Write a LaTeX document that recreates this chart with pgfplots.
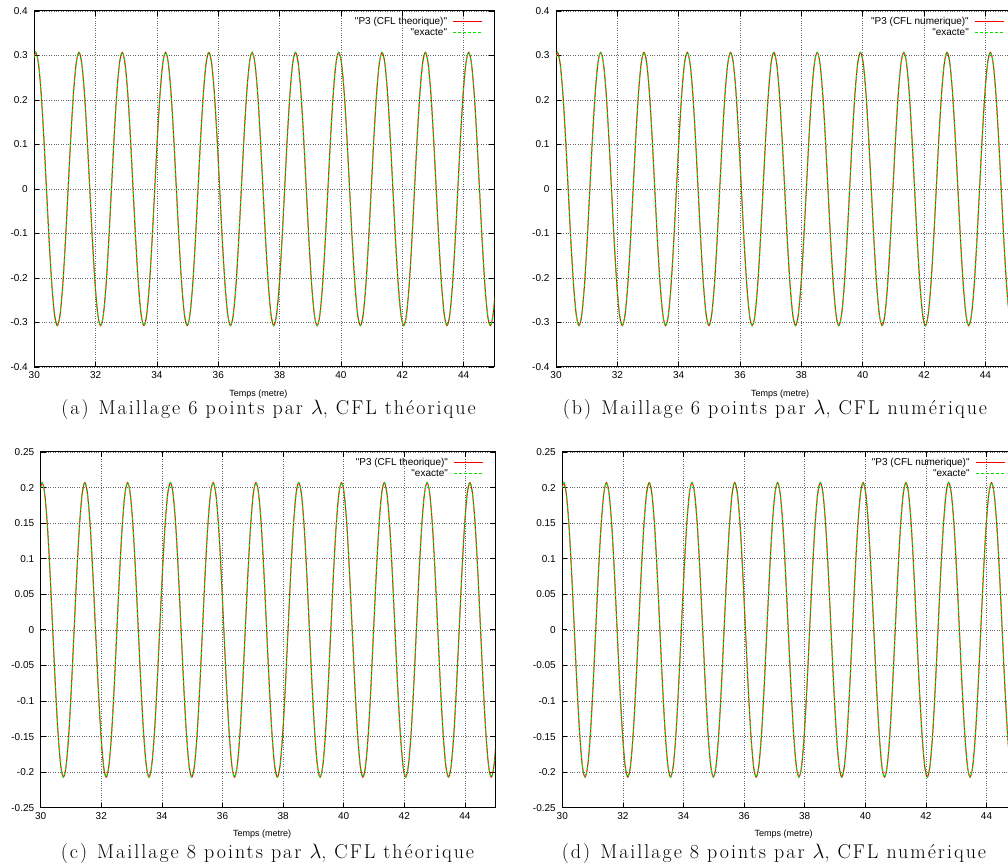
\documentclass[border=0pt]{standalone}
\usepackage{fontspec}
\usepackage{pgfplots}
\usepackage{pgfplotstable}
\pgfplotsset{compat=1.18}
\newfontfamily\hel{Liberation Sans}[Ligatures=TeXOff]
\newfontfamily\capfont{Latin Modern Roman}[LetterSpace=10]
\definecolor{gpred}{rgb}{1,0,0}
\definecolor{gpgreen}{rgb}{0,0.9,0}

\pgfplotstableread[row sep=\\]{
x a c\\
29.956 0.2836 0.1912\\
30.044 0.307 0.207\\ 30.132 0.2836 0.1912\\ 30.221 0.2171 0.1464\\ 30.309 0.1175 0.0792\\ 30.397 0 0\\ 30.485 -0.1175 -0.0792\\ 30.574 -0.2171 -0.1464\\ 30.662 -0.2836 -0.1912\\ 30.750 -0.307 -0.207\\ 30.838 -0.2836 -0.1912\\ 30.927 -0.2171 -0.1464\\ 31.015 -0.1175 -0.0792\\ 31.103 0 0\\ 31.191 0.1175 0.0792\\ 31.280 0.2171 0.1464\\ 31.368 0.2836 0.1912\\
31.456 0.307 0.207\\ 31.544 0.2836 0.1912\\ 31.633 0.2171 0.1464\\ 31.721 0.1175 0.0792\\ 31.809 0 0\\ 31.897 -0.1175 -0.0792\\ 31.986 -0.2171 -0.1464\\ 32.074 -0.2836 -0.1912\\ 32.162 -0.307 -0.207\\ 32.250 -0.2836 -0.1912\\ 32.339 -0.2171 -0.1464\\ 32.427 -0.1175 -0.0792\\ 32.515 0 0\\ 32.603 0.1175 0.0792\\ 32.692 0.2171 0.1464\\ 32.780 0.2836 0.1912\\
32.868 0.307 0.207\\ 32.956 0.2836 0.1912\\ 33.045 0.2171 0.1464\\ 33.133 0.1175 0.0792\\ 33.221 0 0\\ 33.309 -0.1175 -0.0792\\ 33.398 -0.2171 -0.1464\\ 33.486 -0.2836 -0.1912\\ 33.574 -0.307 -0.207\\ 33.662 -0.2836 -0.1912\\ 33.751 -0.2171 -0.1464\\ 33.839 -0.1175 -0.0792\\ 33.927 0 0\\ 34.015 0.1175 0.0792\\ 34.104 0.2171 0.1464\\ 34.192 0.2836 0.1912\\
34.280 0.307 0.207\\ 34.368 0.2836 0.1912\\ 34.457 0.2171 0.1464\\ 34.545 0.1175 0.0792\\ 34.633 0 0\\ 34.721 -0.1175 -0.0792\\ 34.810 -0.2171 -0.1464\\ 34.898 -0.2836 -0.1912\\ 34.986 -0.307 -0.207\\ 35.074 -0.2836 -0.1912\\ 35.163 -0.2171 -0.1464\\ 35.251 -0.1175 -0.0792\\ 35.339 0 0\\ 35.427 0.1175 0.0792\\ 35.516 0.2171 0.1464\\ 35.604 0.2836 0.1912\\
35.692 0.307 0.207\\ 35.780 0.2836 0.1912\\ 35.869 0.2171 0.1464\\ 35.957 0.1175 0.0792\\ 36.045 0 0\\ 36.133 -0.1175 -0.0792\\ 36.222 -0.2171 -0.1464\\ 36.310 -0.2836 -0.1912\\ 36.398 -0.307 -0.207\\ 36.486 -0.2836 -0.1912\\ 36.575 -0.2171 -0.1464\\ 36.663 -0.1175 -0.0792\\ 36.751 0 0\\ 36.839 0.1175 0.0792\\ 36.928 0.2171 0.1464\\ 37.016 0.2836 0.1912\\
37.104 0.307 0.207\\ 37.192 0.2836 0.1912\\ 37.281 0.2171 0.1464\\ 37.369 0.1175 0.0792\\ 37.457 0 0\\ 37.545 -0.1175 -0.0792\\ 37.634 -0.2171 -0.1464\\ 37.722 -0.2836 -0.1912\\ 37.810 -0.307 -0.207\\ 37.898 -0.2836 -0.1912\\ 37.987 -0.2171 -0.1464\\ 38.075 -0.1175 -0.0792\\ 38.163 0 0\\ 38.251 0.1175 0.0792\\ 38.340 0.2171 0.1464\\ 38.428 0.2836 0.1912\\
38.516 0.307 0.207\\ 38.604 0.2836 0.1912\\ 38.693 0.2171 0.1464\\ 38.781 0.1175 0.0792\\ 38.869 0 0\\ 38.957 -0.1175 -0.0792\\ 39.046 -0.2171 -0.1464\\ 39.134 -0.2836 -0.1912\\ 39.222 -0.307 -0.207\\ 39.310 -0.2836 -0.1912\\ 39.399 -0.2171 -0.1464\\ 39.487 -0.1175 -0.0792\\ 39.575 0 0\\ 39.663 0.1175 0.0792\\ 39.752 0.2171 0.1464\\ 39.840 0.2836 0.1912\\
39.928 0.307 0.207\\ 40.016 0.2836 0.1912\\ 40.105 0.2171 0.1464\\ 40.193 0.1175 0.0792\\ 40.281 0 0\\ 40.369 -0.1175 -0.0792\\ 40.458 -0.2171 -0.1464\\ 40.546 -0.2836 -0.1912\\ 40.634 -0.307 -0.207\\ 40.722 -0.2836 -0.1912\\ 40.811 -0.2171 -0.1464\\ 40.899 -0.1175 -0.0792\\ 40.987 0 0\\ 41.075 0.1175 0.0792\\ 41.164 0.2171 0.1464\\ 41.252 0.2836 0.1912\\
41.340 0.307 0.207\\ 41.428 0.2836 0.1912\\ 41.517 0.2171 0.1464\\ 41.605 0.1175 0.0792\\ 41.693 0 0\\ 41.781 -0.1175 -0.0792\\ 41.870 -0.2171 -0.1464\\ 41.958 -0.2836 -0.1912\\ 42.046 -0.307 -0.207\\ 42.134 -0.2836 -0.1912\\ 42.223 -0.2171 -0.1464\\ 42.311 -0.1175 -0.0792\\ 42.399 0 0\\ 42.487 0.1175 0.0792\\ 42.576 0.2171 0.1464\\ 42.664 0.2836 0.1912\\
42.752 0.307 0.207\\ 42.840 0.2836 0.1912\\ 42.929 0.2171 0.1464\\ 43.017 0.1175 0.0792\\ 43.105 0 0\\ 43.193 -0.1175 -0.0792\\ 43.282 -0.2171 -0.1464\\ 43.370 -0.2836 -0.1912\\ 43.458 -0.307 -0.207\\ 43.546 -0.2836 -0.1912\\ 43.635 -0.2171 -0.1464\\ 43.723 -0.1175 -0.0792\\ 43.811 0 0\\ 43.899 0.1175 0.0792\\ 43.988 0.2171 0.1464\\ 44.076 0.2836 0.1912\\
44.164 0.307 0.207\\ 44.252 0.2836 0.1912\\ 44.341 0.2171 0.1464\\ 44.429 0.1175 0.0792\\ 44.517 0 0\\ 44.605 -0.1175 -0.0792\\ 44.694 -0.2171 -0.1464\\ 44.782 -0.2836 -0.1912\\ 44.870 -0.307 -0.207\\ 44.958 -0.2836 -0.1912\\ 45.047 -0.2171 -0.1464\\ 45.135 -0.1175 -0.0792\\ 45.223 0 0\\ 45.311 0.1175 0.0792\\ 45.400 0.2171 0.1464\\ 45.488 0.2836 0.1912\\
}\sinedata

\pgfplotsset{
  gp/.style={
    scale only axis,
    xmin=30, xmax=45,
    xtick={30,32,34,36,38,40,42,44},
    scaled ticks=false,
    /pgf/number format/fixed,
    /pgf/number format/precision=2,
    /pgf/number format/assume math mode=true,
    tick align=inside,
    major tick length=5pt,
    tick style={black, line width=0.8pt},
    axis line style={black, line width=1pt},
    grid=major,
    major grid style={black!60, line width=0.6pt, dash pattern=on 0.8pt off 1.6pt},
    every tick label/.append style={font=\hel\fontsize{10}{12}\selectfont},
    yticklabel style={xshift=-3pt},
    xticklabel style={yshift=-1pt},
    xlabel={Temps (metre)},
    xlabel style={font=\hel\fontsize{9}{10.8}\selectfont, at={(axis description cs:0.487,-0.075)}, anchor=center},
  },
  gplegend/.style={after end axis/.append code={
    \path (rel axis cs:1,1) ++(-47pt,-10.7pt) node[anchor=east, inner sep=0pt, font=\hel\fontsize{10}{12}\selectfont] {#1};
    \path (rel axis cs:1,1) ++(-47pt,-21.3pt) node[anchor=east, inner sep=0pt, font=\hel\fontsize{10}{12}\selectfont] {"exacte"};
    \draw[draw=gpred, line width=1.4pt] (rel axis cs:1,1) ++(-41pt,-10.7pt) -- ++(29pt,0pt);
    \draw[draw=gpgreen, line width=1.4pt, dash pattern=on 3pt off 2pt] (rel axis cs:1,1) ++(-41pt,-21.3pt) -- ++(29pt,0pt);
  }},
  redl/.style={draw=gpred, line width=1pt, smooth},
  grnl/.style={draw=gpgreen, line width=1pt, smooth, dash pattern=on 3pt off 2pt},
}

\begin{document}
\begin{tikzpicture}[x=1pt,y=1pt]
\path[use as bounding box] (0,0) rectangle (1008,867);

% (a)
\begin{axis}[gp, gplegend={"P3 (CFL theorique)"}, at={(34.3pt,500pt)}, anchor=south west, width=460pt, height=356pt,
  ymin=-0.4, ymax=0.4, ytick={-0.4,-0.3,-0.2,-0.1,0,0.1,0.2,0.3,0.4}]
\addplot[redl] table[x=x,y=a] {\sinedata};
\addplot[grnl] table[x=x,y=a] {\sinedata};
\end{axis}

% (b)
\begin{axis}[gp, gplegend={"P3 (CFL numerique)"}, at={(556pt,500pt)}, anchor=south west, width=460pt, height=356pt,
  ymin=-0.4, ymax=0.4, ytick={-0.4,-0.3,-0.2,-0.1,0,0.1,0.2,0.3,0.4}]
\addplot[redl] table[x=x,y=a] {\sinedata};
\addplot[grnl] table[x=x,y=a] {\sinedata};
\end{axis}

% (c)
\begin{axis}[gp, gplegend={"P3 (CFL theorique)"}, at={(40.7pt,59.3pt)}, anchor=south west, width=454.5pt, height=355.7pt,
  ymin=-0.25, ymax=0.25, ytick={-0.25,-0.2,-0.15,-0.1,-0.05,0,0.05,0.1,0.15,0.2,0.25}]
\addplot[redl] table[x=x,y=c] {\sinedata};
\addplot[grnl] table[x=x,y=c] {\sinedata};
\end{axis}

% (d)
\begin{axis}[gp, gplegend={"P3 (CFL numerique)"}, at={(562.3pt,59.3pt)}, anchor=south west, width=454.5pt, height=355.7pt,
  ymin=-0.25, ymax=0.25, ytick={-0.25,-0.2,-0.15,-0.1,-0.05,0,0.05,0.1,0.15,0.2,0.25}]
\addplot[redl] table[x=x,y=c] {\sinedata};
\addplot[grnl] table[x=x,y=c] {\sinedata};
\end{axis}

\tikzset{capt/.style={anchor=base, inner sep=0pt, font=\capfont\fontsize{20}{24}\selectfont}}
\node[capt] at (268.5,452) {(a)\enspace Maillage 6 points par $\lambda$, CFL théorique};
\node[capt] at (775,452) {(b)\enspace Maillage 6 points par $\lambda$, CFL numérique};
\node[capt] at (267.5,9) {(c)\enspace Maillage 8 points par $\lambda$, CFL théorique};
\node[capt] at (774,9) {(d)\enspace Maillage 8 points par $\lambda$, CFL numérique};
\end{tikzpicture}
\end{document}
